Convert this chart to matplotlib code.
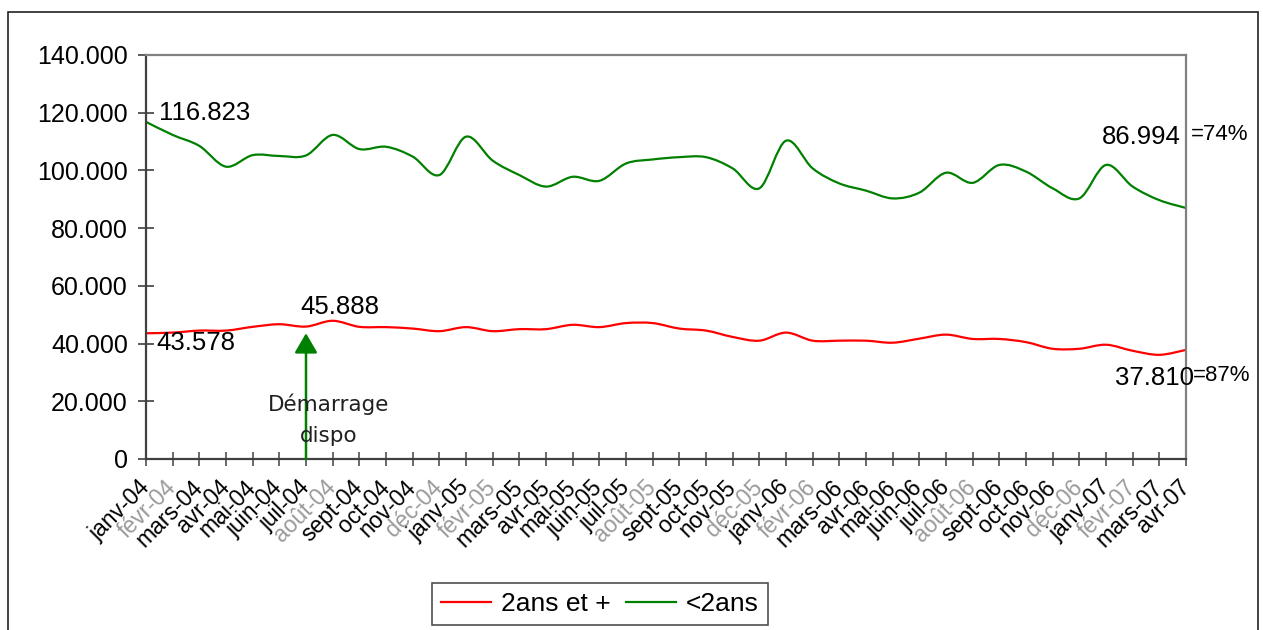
import matplotlib
matplotlib.use("Agg")
import matplotlib.pyplot as plt
from matplotlib.path import Path
from matplotlib.patches import PathPatch, Rectangle
from matplotlib.lines import Line2D
from matplotlib.ticker import FuncFormatter
import numpy as np

plt.rcParams['font.family'] = ['Liberation Sans', 'DejaVu Sans']

months = ["janv-04", "févr-04", "mars-04", "avr-04", "mai-04", "juin-04", "juil-04", "août-04",
          "sept-04", "oct-04", "nov-04", "déc-04",
          "janv-05", "févr-05", "mars-05", "avr-05", "mai-05", "juin-05", "juil-05", "août-05",
          "sept-05", "oct-05", "nov-05", "déc-05",
          "janv-06", "févr-06", "mars-06", "avr-06", "mai-06", "juin-06", "juil-06", "août-06",
          "sept-06", "oct-06", "nov-06", "déc-06",
          "janv-07", "févr-07", "mars-07", "avr-07"]

# 2 ans et plus
older = [43578, 43800, 44500, 44500, 45800, 46700, 45888, 47900, 45800, 45700,
         45200, 44300, 45700, 44300, 45000, 45000, 46500, 45700, 47100, 47100,
         45200, 44500, 42300, 41000, 43800, 41000, 41000, 41000, 40300, 41700,
         43100, 41600, 41600, 40500, 38200, 38200, 39600, 37500, 36100, 37810]

# moins de 2 ans
younger = [116823, 112300, 108500, 101300, 105300, 105000, 105200, 112300, 107400, 108200,
           104800, 98400, 111700, 103400, 98400, 94400, 97800, 96400, 102400, 103800,
           104600, 104600, 100700, 93800, 110300, 100700, 95500, 93000, 90300, 92300,
           99200, 95700, 101900, 99600, 93800, 90300, 101900, 94400, 89700, 86994]

series_names = ["2ans et +", "<2ans"]
series_colors = ["#FF0000", "#008000"]

W, H = 1263, 630
fig = plt.figure(figsize=(W / 100, H / 100), dpi=100)
ax = fig.add_axes([146 / W, 1 - 459 / H, (1186 - 146) / W, (459 - 55) / H])

x = np.arange(len(months))


def smooth_path(xs, ys):
    """Catmull-Rom style smoothed curve through the points, as cubic Bezier segments."""
    pts = np.column_stack([xs, ys]).astype(float)
    n = len(pts)
    verts = [pts[0]]
    codes = [Path.MOVETO]
    for i in range(n - 1):
        p0 = pts[i - 1] if i > 0 else pts[i]
        p1 = pts[i]
        p2 = pts[i + 1]
        p3 = pts[i + 2] if i + 2 < n else pts[i + 1]
        c1 = p1 + (p2 - p0) / 6.0
        c2 = p2 - (p3 - p1) / 6.0
        verts += [c1, c2, p2]
        codes += [Path.CURVE4] * 3
    return Path(verts, codes)


for vals, col in zip([older, younger], series_colors):
    ax.add_patch(PathPatch(smooth_path(x, vals), facecolor="none", edgecolor=col,
                           lw=1.6, joinstyle="round", capstyle="round"))

ax.set_xlim(0, len(months) - 1)
ax.set_ylim(0, 140000)
ax.set_yticks(np.arange(0, 140001, 20000))
ax.yaxis.set_major_formatter(FuncFormatter(lambda v, p: "0" if v == 0 else f"{v / 1000:.3f}"))
ax.set_xticks(x)
ax.set_xticklabels(months, rotation=45, ha="right", va="center", rotation_mode="anchor")
for lab in ax.get_xticklabels():
    if any(c in lab.get_text() for c in "éû"):
        lab.set_color("#9a9a9a")

ax.tick_params(axis="y", direction="inout", length=12, width=1.2, color="#404040",
               labelsize=18, pad=7)
ax.tick_params(axis="x", direction="inout", length=10, width=1.2, color="#505050",
               labelsize=16.5, pad=13)

for s in ["left", "bottom"]:
    ax.spines[s].set_color("#404040")
    ax.spines[s].set_linewidth(1.6)
for s in ["top", "right"]:
    ax.spines[s].set_color("#808080")
    ax.spines[s].set_linewidth(1.6)

# value labels
lbl = dict(fontsize=18.5, color="black")
ax.text(0.5, 116823 + 3000, "116.823", ha="left", va="center", **lbl)
ax.text(0.4, older[0] - 3400, "43.578", ha="left", va="center", **lbl)
ax.text(5.8, older[6] + 6800, "45.888", ha="left", va="center", **lbl)
ax.text(38.8, younger[-1] + 24600, "86.994", ha="right", va="center", **lbl)
ax.text(39.2, younger[-1] + 25600, "=74%", ha="left", va="center", fontsize=16,
        clip_on=False)
ax.text(39.3, older[-1] - 9700, "37.810", ha="right", va="center", clip_on=False, **lbl)
ax.text(39.25, older[-1] - 9000, "=87%", ha="left", va="center", fontsize=16,
        clip_on=False)

# start marker
ax.annotate("", xy=(6, older[6] - 2300), xytext=(6, 0),
            arrowprops=dict(arrowstyle="-|>,head_length=1.2,head_width=0.7",
                            color="#008000", lw=1.8, shrinkA=0, shrinkB=0))
ax.text(6.85, 19000, "Démarrage", ha="center", va="center", fontsize=15.5,
        fontfamily=["DejaVu Sans"], color="#202020")
ax.text(6.85, 7800, "dispo", ha="center", va="center", fontsize=15.5,
        fontfamily=["DejaVu Sans"], color="#202020")

# outer frame
fig.patches.append(Rectangle((8 / W, -0.05), (1258 - 8) / W, 1 - 12 / H + 0.05,
                             transform=fig.transFigure, fill=False, edgecolor="#222222",
                             lw=1.2))

handles = [Line2D([], [], color=c, lw=1.6) for c in series_colors]
leg = fig.legend(handles, series_names, loc="upper left",
                 bbox_to_anchor=(432 / W, 1 - 583 / H), ncol=2, frameon=True,
                 fancybox=False, edgecolor="#222222", fontsize=19, handlelength=1.9,
                 handletextpad=0.38, columnspacing=0.55, borderpad=0.35,
                 borderaxespad=0)
leg.get_frame().set_linewidth(1.2)

fig.savefig("out.png", dpi=100, facecolor="white")
